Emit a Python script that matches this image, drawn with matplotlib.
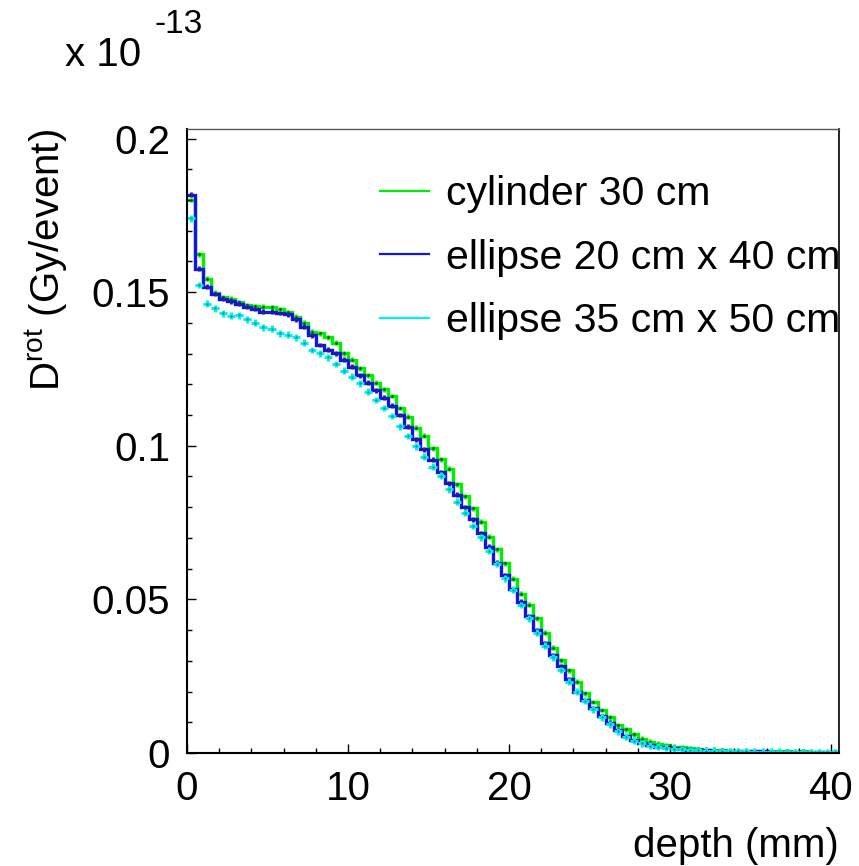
import numpy as np
import matplotlib
matplotlib.use("Agg")
import matplotlib.pyplot as plt
from matplotlib.lines import Line2D
from matplotlib.ticker import MultipleLocator, FuncFormatter

plt.rcParams['font.family'] = ['Liberation Sans', 'DejaVu Sans']
plt.rcParams['mathtext.default'] = 'regular'

# dose per event (x 1e-13 Gy), 0.5 mm bins from 0 to 40.5 mm
bin_width = 0.5
n_bins = 81

cylinder_30 = [
    0.1800, 0.1624, 0.1544, 0.1498, 0.1484, 0.1478, 0.1468, 0.1458, 0.1455, 0.1452,
    0.1451, 0.1445, 0.1435, 0.1420, 0.1400, 0.1371, 0.1366, 0.1353, 0.1336, 0.1301,
    0.1280, 0.1252, 0.1230, 0.1205, 0.1184, 0.1162, 0.1123, 0.1095, 0.1059, 0.1032,
    0.0992, 0.0956, 0.0925, 0.0875, 0.0836, 0.0796, 0.0753, 0.0704, 0.0663, 0.0618,
    0.0567, 0.0518, 0.0482, 0.0438, 0.0392, 0.0343, 0.0302, 0.0270, 0.0232, 0.0195,
    0.0166, 0.0140, 0.0116, 0.0091, 0.0077, 0.0061, 0.0046, 0.0036, 0.0030, 0.0025,
    0.0021, 0.0018, 0.0015, 0.0013, 0.0011, 0.0010, 0.0009, 0.0008, 0.0007, 0.0007,
    0.0006, 0.0006, 0.0005, 0.0006, 0.0005, 0.0004, 0.0005, 0.0004, 0.0004, 0.0003, 0.0004,
]

ellipse_20x40 = [
    0.1817, 0.1576, 0.1518, 0.1494, 0.1478, 0.1471, 0.1463, 0.1452, 0.1445, 0.1436,
    0.1436, 0.1432, 0.1428, 0.1412, 0.1388, 0.1360, 0.1328, 0.1312, 0.1301, 0.1280,
    0.1257, 0.1230, 0.1205, 0.1181, 0.1157, 0.1130, 0.1100, 0.1062, 0.1021, 0.0988,
    0.0954, 0.0913, 0.0878, 0.0840, 0.0800, 0.0761, 0.0715, 0.0672, 0.0620, 0.0579,
    0.0533, 0.0493, 0.0446, 0.0400, 0.0357, 0.0319, 0.0283, 0.0240, 0.0200, 0.0172,
    0.0146, 0.0120, 0.0099, 0.0075, 0.0055, 0.0041, 0.0032, 0.0025, 0.0021, 0.0018,
    0.0015, 0.0013, 0.0011, 0.0010, 0.0009, 0.0008, 0.0007, 0.0006, 0.0006, 0.0005,
    0.0005, 0.0005, 0.0004, 0.0004, 0.0004, 0.0003, 0.0004, 0.0003, 0.0003, 0.0003, 0.0003,
]

ellipse_35x50 = [
    0.1740, 0.1523, 0.1462, 0.1447, 0.1431, 0.1423, 0.1425, 0.1412, 0.1401, 0.1385,
    0.1381, 0.1366, 0.1361, 0.1353, 0.1336, 0.1312, 0.1301, 0.1288, 0.1266, 0.1244,
    0.1225, 0.1203, 0.1176, 0.1149, 0.1123, 0.1097, 0.1063, 0.1032, 0.0998, 0.0964,
    0.0932, 0.0902, 0.0858, 0.0818, 0.0782, 0.0739, 0.0702, 0.0659, 0.0615, 0.0568,
    0.0531, 0.0482, 0.0438, 0.0392, 0.0349, 0.0311, 0.0270, 0.0232, 0.0200, 0.0170,
    0.0142, 0.0116, 0.0093, 0.0071, 0.0053, 0.0040, 0.0031, 0.0024, 0.0020, 0.0017,
    0.0014, 0.0012, 0.0010, 0.0009, 0.0008, 0.0007, 0.0006, 0.0006, 0.0005, 0.0005,
    0.0004, 0.0004, 0.0004, 0.0004, 0.0003, 0.0003, 0.0003, 0.0003, 0.0003, 0.0002, 0.0003,
]

labels = ["cylinder 30 cm", "ellipse 20 cm x 40 cm", "ellipse 35 cm x 50 cm"]
colors = ["#00ee00", "#1414dc", "#00f0f0"]

edges = np.arange(n_bins + 1) * bin_width
centers = edges[:-1] + bin_width / 2

fig = plt.figure(figsize=(8.59, 8.66), dpi=100)
ax = fig.add_axes([187 / 859, 113 / 866, 652 / 859, 624 / 866])

# histograms drawn as steps with small error ticks
for vals, col in zip([cylinder_30, ellipse_20x40], colors[:2]):
    ax.stairs(vals, edges, color=col, lw=2.4, baseline=None)
    ax.errorbar(centers, vals, yerr=0.0008, fmt='none', ecolor=col, elinewidth=2)
    ax.plot(centers, vals, ls='none', marker='o', ms=0.8, color='#303030')

# third one drawn as points with bin-wide horizontal bars
ax.errorbar(centers, ellipse_35x50, xerr=bin_width / 2, yerr=0.0011, fmt='none',
            ecolor=colors[2], elinewidth=2.2)
ax.plot(centers, ellipse_35x50, ls='none', marker='o', ms=0.6, color='#308080')

ax.set_xlim(0, 40.5)
ax.set_ylim(0, 0.2031)

ax.xaxis.set_major_locator(MultipleLocator(10))
ax.xaxis.set_minor_locator(MultipleLocator(2))
ax.yaxis.set_major_locator(MultipleLocator(0.05))
ax.yaxis.set_minor_locator(MultipleLocator(0.01))
ax.yaxis.set_major_formatter(FuncFormatter(lambda v, p: "%g" % round(v, 3)))

ax.tick_params(which='both', direction='in', top=False, right=False,
               labelsize=29, width=1, color='black')
ax.tick_params(which='major', length=6.5)
ax.tick_params(which='minor', length=3.5)
ax.tick_params(axis='y', pad=12)
ax.tick_params(axis='x', pad=12)

for side in ['left', 'bottom']:
    ax.spines[side].set_linewidth(1.5)
ax.spines['top'].set_linewidth(1.0)
ax.spines['top'].set_color('#555555')
ax.spines['right'].set_linewidth(1.2)

ax.set_xlabel("depth (mm)", fontsize=29, loc='right', labelpad=14)
ax.set_ylabel(r"D$^{rot}$ (Gy/event)", fontsize=29, loc='top', labelpad=16)

fig.text(65 / 859, 1 - 66 / 866, "x 10", fontsize=29, ha='left', va='baseline')
fig.text(155 / 859, 1 - 33 / 866, "-13", fontsize=24, ha='left', va='baseline')

handles = [Line2D([], [], color=c, lw=1.6) for c in colors]
ax.legend(handles, labels, loc='upper left', bbox_to_anchor=(0.296, 0.926),
          frameon=False, fontsize=29.5, handlelength=1.2, handletextpad=0.4,
          labelspacing=0.62, borderpad=0, borderaxespad=0)

fig.savefig("out.png", dpi=100)
print("saved out.png")
